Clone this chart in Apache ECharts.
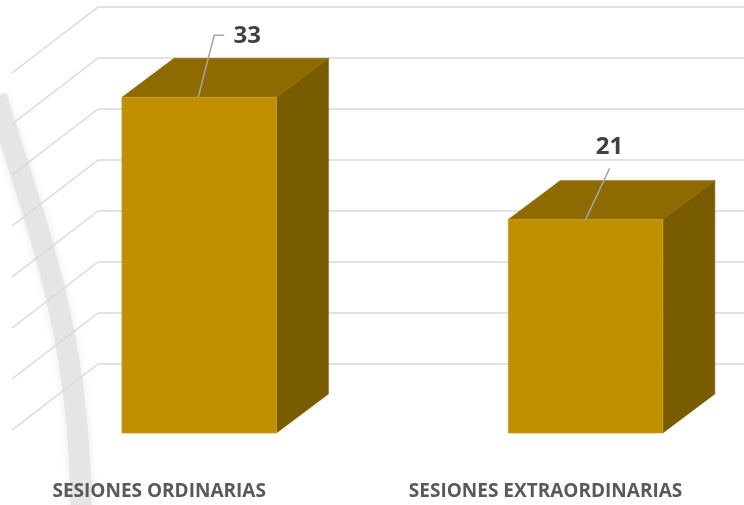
<!DOCTYPE html>
<html>
<head>
<meta charset="utf-8">
<script src="https://cdn.jsdelivr.net/npm/echarts@6/dist/echarts.min.js"></script>
<style>
  html, body { margin: 0; padding: 0; background: #ffffff; }
  #chart { width: 744px; height: 505px; }
</style>
</head>
<body>
<div id="chart"></div>
<script>
// ---- data ----
const categories = ['SESIONES ORDINARIAS', 'SESIONES EXTRAORDINARIAS'];
const values = [33, 21];
const gridTicks = [0, 5, 10, 15, 20, 25, 30, 35];

// ---- layout constants (not data) ----
const DEPTH_X = 52, DEPTH_Y = -39;       // bar depth
const WALL_X = -86, WALL_Y = 66;         // left wall diagonal
const labelLayout = [
  { leader: [[-1, 0], [15, -62], [25, -62]], text: [48, -61] },
  { leader: [[0, 0], [24, -51]], text: [24, -72] }
];

const chart = echarts.init(document.getElementById('chart'));

function renderBar(params, api) {
  const idx = api.value(0);
  const v = api.value(1);
  const top = api.coord([idx, v]);
  const zero = api.coord([idx, 0]);
  const bw = api.size([1, 0])[0] * 0.4;
  const l = top[0] - bw / 2, r = top[0] + bw / 2;
  const ty = top[1], by = zero[1];
  const lay = labelLayout[params.dataIndex];
  const leaderPts = lay.leader.map(p => [top[0] + p[0], ty + p[1]]);
  return {
    type: 'group',
    children: [
      { type: 'polygon', shape: { points: [[r, ty], [r + DEPTH_X, ty + DEPTH_Y], [r + DEPTH_X, by + DEPTH_Y], [r, by]] },
        style: { fill: '#7a5c00', stroke: '#7a5c00', lineWidth: 0.5 } },
      { type: 'polygon', shape: { points: [[l, ty], [l + DEPTH_X, ty + DEPTH_Y], [r + DEPTH_X, ty + DEPTH_Y], [r, ty]] },
        style: { fill: '#8e6a00', stroke: '#8e6a00', lineWidth: 0.5 } },
      { type: 'rect', shape: { x: l, y: ty, width: bw, height: by - ty },
        style: { fill: '#bf8f00', stroke: '#c9a030', lineWidth: 0.8 } },
      { type: 'polyline', shape: { points: leaderPts },
        style: { stroke: '#a6a6a6', lineWidth: 1.5, fill: null } },
      { type: 'text', x: top[0] + lay.text[0], y: ty + lay.text[1],
        style: { text: String(v), fill: '#404040', font: 'bold 24px "Open Sans", sans-serif',
                 align: 'center', verticalAlign: 'middle' } }
    ]
  };
}

function renderDiag(params, api) {
  const v = api.value(1);
  const p = api.coord([0, v]);
  return {
    type: 'line',
    shape: { x1: p[0], y1: p[1], x2: p[0] + WALL_X, y2: p[1] + WALL_Y },
    style: { stroke: '#d9d9d9', lineWidth: 1.5 }
  };
}

chart.setOption({
  backgroundColor: '#ffffff',
  animation: false,
  graphic: [{
    type: 'bezierCurve',
    z: 0,
    shape: { x1: -4, y1: 96, cpx1: 36, cpy1: 225, cpx2: 80, cpy2: 330, x2: 81, y2: 510 },
    style: { fill: null, stroke: '#e4e5e7', lineWidth: 21, shadowBlur: 8, shadowColor: '#e8e9eb' }
  }],
  grid: [
    { left: 6, right: 0, top: 77, height: 356, outerBoundsMode: 'none', containLabel: false },   // front plane (bars)
    { left: 98, right: 0, top: 7, height: 357, outerBoundsMode: 'none', containLabel: false }    // back wall
  ],
  xAxis: [
    { gridIndex: 0, type: 'value', min: -0.5, max: 1.41,
      axisLine: { show: false }, axisTick: { show: false }, splitLine: { show: false },
      axisLabel: { customValues: [0, 1], formatter: v => categories[Math.round(v)] || '',
                   margin: 49, color: '#595959', fontSize: 19, fontWeight: 'bold',
                   fontFamily: '"Open Sans", sans-serif', lineHeight: 20, padding: [0, 80, 0, 0] } },
    { gridIndex: 1, type: 'value', min: 0, max: 1, show: false }
  ],
  yAxis: [
    { gridIndex: 0, type: 'value', min: 0, max: 35, interval: 5, show: false },
    { gridIndex: 1, type: 'value', min: 0, max: 35, interval: 5,
      axisLine: { show: false }, axisTick: { show: false }, axisLabel: { show: false },
      splitLine: { show: true, lineStyle: { color: '#d9d9d9', width: 1.5 } } }
  ],
  series: [
    { type: 'custom', xAxisIndex: 1, yAxisIndex: 1, z: 1,
      data: gridTicks.map(t => [0, t]), renderItem: renderDiag, silent: true },
    { type: 'custom', xAxisIndex: 0, yAxisIndex: 0, z: 5,
      data: values.map((v, i) => [i, v]), renderItem: renderBar, silent: true }
  ]
});
</script>
</body>
</html>
